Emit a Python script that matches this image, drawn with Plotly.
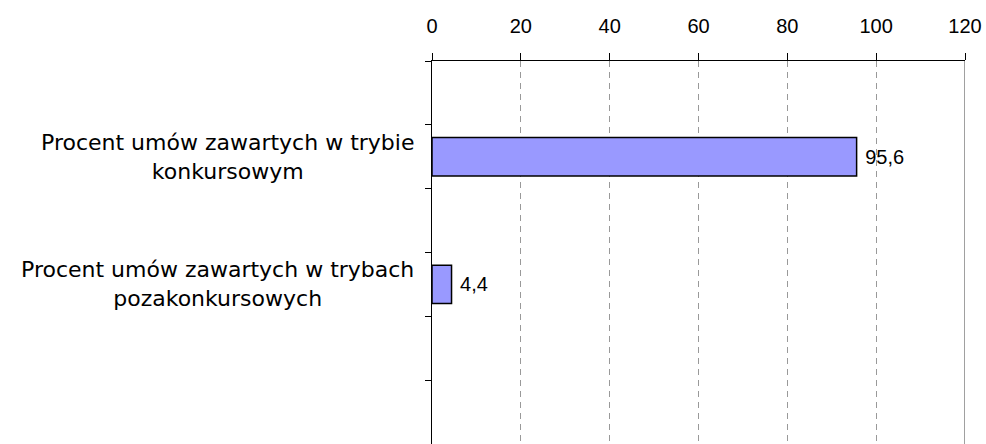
import plotly.graph_objects as go

categories = ["", "Procent umów zawartych w trybie<br>konkursowym", " ",
              "Procent umów zawartych w trybach<br>pozakonkursowych", "  ", "   "]
values = [None, 95.6, None, 4.4, None, None]
x_ticks = [0, 20, 40, 60, 80, 100, 120]

fig = go.Figure()
fig.add_trace(go.Bar(
    y=categories, x=values, orientation="h",
    marker=dict(color="#9999FF", line=dict(color="black", width=1.5)),
    width=0.6,
    text=[("" if v is None else "\u00a0" + f"{v}".replace(".", ",")) for v in values],
    textposition="outside", cliponaxis=False,
    textfont=dict(family="Liberation Sans, Arial", size=20, color="black"),
    hoverinfo="skip",
))

for c, v in zip(categories, values):
    if v is not None:
        fig.add_annotation(
            x=-0.03, xref="paper", y=c, yref="y", text=c, showarrow=False,
            xanchor="right", yanchor="middle", align="center",
            font=dict(family="DejaVu Sans, Verdana", size=22, color="black"),
        )

fig.add_shape(type="line", x0=120, x1=120, xref="x", y0=0, y1=1, yref="paper",
              line=dict(color="#808080", width=1.5))

fig.update_layout(
    width=986, height=444,
    margin=dict(l=432, r=21, t=61, b=0, autoexpand=False),
    paper_bgcolor="white", plot_bgcolor="white",
    showlegend=False, bargap=0.4,
    xaxis=dict(
        side="top", range=[0, 120], tickvals=x_ticks, ticktext=[str(t) for t in x_ticks],
        showgrid=True, gridcolor="#999999", griddash="6px,5px", gridwidth=1,
        showline=True, linecolor="black", linewidth=1.5,
        ticks="outside", ticklen=7, tickcolor="black", tickwidth=1,
        ticklabelstandoff=12,
        tickfont=dict(family="Liberation Sans, Arial", size=20, color="black"),
        zeroline=False, fixedrange=True, automargin=False,
    ),
    yaxis=dict(
        type="category", categoryorder="array", categoryarray=categories,
        autorange="reversed", showticklabels=False,
        tickson="boundaries", ticks="outside", ticklen=6, tickcolor="black",
        showline=True, linecolor="black", linewidth=1.5, showgrid=False,
        zeroline=False, fixedrange=True, automargin=False,
    ),
)

fig.write_html(
    "out.html",
    config={"displayModeBar": False, "staticPlot": True},
    post_script="document.body.style.margin='0';document.body.style.overflow='hidden';",
)
